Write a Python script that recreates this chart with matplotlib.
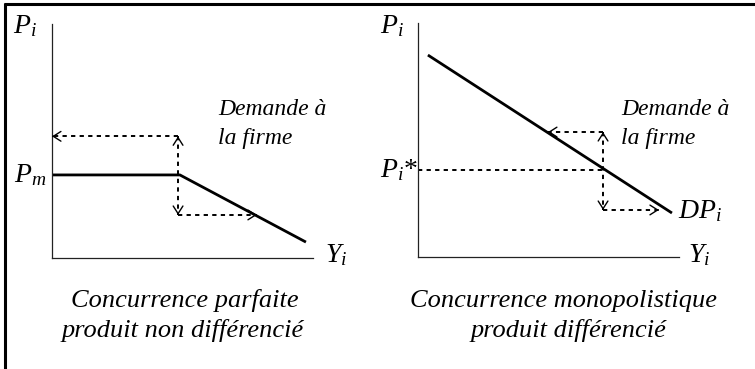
import matplotlib
matplotlib.use("Agg")
import matplotlib.pyplot as plt

plt.rcParams['font.family'] = ['Liberation Serif', 'DejaVu Serif']
plt.rcParams['mathtext.fontset'] = 'custom'
plt.rcParams['mathtext.rm'] = 'Liberation Serif'
plt.rcParams['mathtext.it'] = 'Liberation Serif:italic'

# ---- data (abstract units, 0..10 on each axis) ----
# left panel: perfect competition, kinked demand
left_demand_x = [0.0, 4.9, 9.73]
left_demand_y = [3.55, 3.55, 0.68]
left_guide_x = 4.83          # vertical dotted guide
left_guide_top = 5.2
left_guide_bottom = 1.84
left_arrow_top_end = 0.0     # top dotted arrow goes to the axis
left_arrow_bottom_end = 7.85

# right panel: monopolistic competition, sloped demand
right_demand_x = [0.38, 9.73]
right_demand_y = [8.63, 1.88]
right_pstar = 3.72
right_guide_x = 7.09
right_guide_top = 5.34
right_guide_bottom = 2.01
right_arrow_top_end = 4.98
right_arrow_bottom_end = 9.23

W, H = 755, 369
fig = plt.figure(figsize=(W / 100, H / 100), dpi=100)

def px_axes(x0, y0, x1, y1):
    return fig.add_axes([x0 / W, 1 - y0 / H, (x1 - x0) / W, (y0 - y1) / H])

dot = dict(color='black', linestyle=(0, (2.2, 2.2)), linewidth=1.4)
solid = dict(color='black', linewidth=2.0, solid_capstyle='butt')

def head(ax, x0, y0, x1, y1):
    ax.annotate('', xy=(x1, y1), xytext=(x0, y0),
                arrowprops=dict(arrowstyle='->,head_length=0.55,head_width=0.35',
                                color='black', lw=1.0, shrinkA=0, shrinkB=0),
                annotation_clip=False)

def setup(ax):
    ax.set_xlim(0, 10)
    ax.set_ylim(0, 10)
    for s in ['top', 'right']:
        ax.spines[s].set_visible(False)
    for s in ['left', 'bottom']:
        ax.spines[s].set_linewidth(0.9)
        ax.spines[s].set_color('#222222')
    ax.set_xticks([])
    ax.set_yticks([])
    ax.patch.set_alpha(0)

# ---- left panel ----
axL = px_axes(52, 258, 313, 24)
setup(axL)
axL.plot(left_demand_x, left_demand_y, **solid)
axL.plot([left_guide_x, left_arrow_top_end], [left_guide_top, left_guide_top], **dot)
axL.plot([left_guide_x, left_guide_x], [left_guide_top, left_guide_bottom], **dot)
axL.plot([left_guide_x, left_arrow_bottom_end], [left_guide_bottom, left_guide_bottom], **dot)
eps = 0.05
head(axL, left_arrow_top_end + eps, left_guide_top, left_arrow_top_end, left_guide_top)
head(axL, left_guide_x, left_guide_top - eps, left_guide_x, left_guide_top)
head(axL, left_guide_x, left_guide_bottom + eps, left_guide_x, left_guide_bottom)
head(axL, left_arrow_bottom_end - eps, left_guide_bottom, left_arrow_bottom_end, left_guide_bottom)

# ---- right panel ----
axR = px_axes(418, 257, 679, 23)
setup(axR)
axR.plot(right_demand_x, right_demand_y, **solid)
axR.plot([0, right_guide_x], [right_pstar, right_pstar], **dot)
axR.plot([right_guide_x, right_arrow_top_end], [right_guide_top, right_guide_top], **dot)
axR.plot([right_guide_x, right_guide_x], [right_guide_top, right_guide_bottom], **dot)
axR.plot([right_guide_x, right_arrow_bottom_end], [right_guide_bottom, right_guide_bottom], **dot)
head(axR, right_arrow_top_end + eps, right_guide_top, right_arrow_top_end, right_guide_top)
head(axR, right_guide_x, right_guide_top - eps, right_guide_x, right_guide_top)
head(axR, right_guide_x, right_guide_bottom + eps, right_guide_x, right_guide_bottom)
head(axR, right_arrow_bottom_end - eps, right_guide_bottom, right_arrow_bottom_end, right_guide_bottom)

# ---- overlay for text and frame (pixel coords) ----
ov = fig.add_axes([0, 0, 1, 1])
ov.set_xlim(0, W)
ov.set_ylim(H, 0)
ov.axis('off')
ov.patch.set_alpha(0)

ov.plot([5, 5], [3, H], color='black', linewidth=2.2, solid_capstyle='butt')
ov.plot([4, W], [4, 4], color='black', linewidth=2.2, solid_capstyle='butt')

lab = 20
ov.text(13, 33, r'$P_i$', fontsize=lab, va='baseline', ha='left')
ov.text(14, 182, r'$P_m$', fontsize=lab, va='baseline', ha='left')
ov.text(325, 262, r'$Y_i$', fontsize=lab, va='baseline', ha='left')
ov.text(380, 33, r'$P_i$', fontsize=lab, va='baseline', ha='left')
ov.text(380, 177, r'$P_i$*', fontsize=lab, va='baseline', ha='left')
ov.text(678, 218, r'$DP_i$', fontsize=lab, va='baseline', ha='left')
ov.text(688, 262, r'$Y_i$', fontsize=lab, va='baseline', ha='left')

dem = 17
for x in (218, 621):
    ov.text(x, 115, 'Demande à', fontsize=dem, style='italic', va='baseline', ha='left')
    ov.text(x, 144, 'la firme', fontsize=dem, style='italic', va='baseline', ha='left')

cap = 19
ov.text(185, 307, 'Concurrence parfaite', fontsize=cap, style='italic', va='baseline', ha='center')
ov.text(183, 337, 'produit non différencié', fontsize=cap, style='italic', va='baseline', ha='center')
ov.text(564, 307, 'Concurrence monopolistique', fontsize=cap, style='italic', va='baseline', ha='center')
ov.text(568, 337, 'produit différencié', fontsize=cap, style='italic', va='baseline', ha='center')

fig.savefig('out.png', dpi=100)
